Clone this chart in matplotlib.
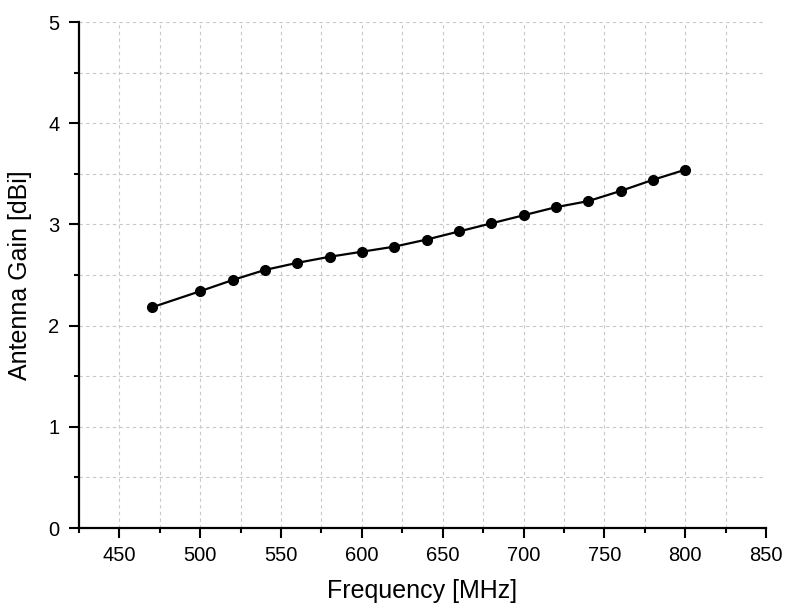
import matplotlib
matplotlib.use("Agg")
import matplotlib.pyplot as plt
from matplotlib.ticker import MultipleLocator

plt.rcParams['font.family'] = ['Liberation Sans', 'DejaVu Sans']

# Measured antenna gain versus frequency
freq_mhz = [470, 500, 520, 540, 560, 580, 600, 620, 640, 660, 680,
            700, 720, 740, 760, 780, 800]
gain_dbi = [2.18, 2.34, 2.45, 2.55, 2.62, 2.68, 2.73, 2.78, 2.85, 2.93,
            3.01, 3.09, 3.17, 3.23, 3.33, 3.44, 3.54]

fig = plt.figure(figsize=(7.85, 6.10), dpi=100)
ax = fig.add_axes([79 / 785, 1 - 528 / 610, (766 - 79) / 785, (528 - 22) / 610])

ax.plot(freq_mhz, gain_dbi, color='black', linewidth=1.6, marker='o',
        markersize=7, markerfacecolor='black', markeredgecolor='black',
        zorder=3)

ax.set_xlim(425, 850)
ax.set_ylim(0, 5)
ax.xaxis.set_major_locator(MultipleLocator(50))
ax.xaxis.set_minor_locator(MultipleLocator(25))
ax.yaxis.set_major_locator(MultipleLocator(1))
ax.yaxis.set_minor_locator(MultipleLocator(0.5))

ax.grid(which='both', color='#c8c8c8', linestyle=(0, (3, 3)), linewidth=0.8)
ax.set_axisbelow(True)

for side in ('top', 'right'):
    ax.spines[side].set_visible(False)
for side in ('left', 'bottom'):
    ax.spines[side].set_linewidth(1.6)

ax.tick_params(which='major', direction='out', length=7.2, width=1.5,
               labelsize=14.5)
ax.tick_params(which='minor', direction='out', length=3.8, width=1.5)
ax.tick_params(axis='x', which='major', pad=6)
ax.tick_params(axis='y', which='major', pad=7)

ax.set_xlabel('Frequency [MHz]', fontsize=18, va='center')
ax.set_ylabel('Antenna Gain [dBi]', fontsize=18, va='center')
ax.xaxis.set_label_coords(0.5, (528 - 591) / 506)
ax.yaxis.set_label_coords((20 - 79) / 687, 0.5)

fig.savefig('out.png', dpi=100)
